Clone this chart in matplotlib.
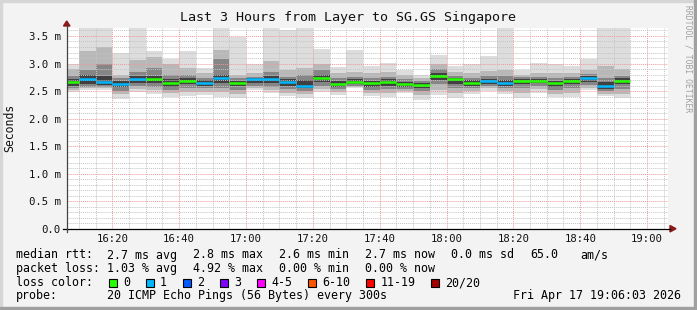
"""SmokePing style latency graph: Layer -> SG.GS Singapore, last 3 hours."""
import matplotlib
matplotlib.use("Agg")
import matplotlib.pyplot as plt
from matplotlib.lines import Line2D
from matplotlib.patches import Polygon, Rectangle
from matplotlib.ticker import FuncFormatter, MultipleLocator
import numpy as np

W, H = 697, 310
MONO = "DejaVu Sans Mono"

# 5 minute steps, first one starts at 16:05 (minutes since midnight)
first_step = 16 * 60 + 5
step = 5

# rtt in ms, read per 5-minute column (sorted ping bands)
rtt_max = [3.00, 3.70, 3.70, 3.20, 3.70, 3.23, 3.09, 3.23, 2.91, 3.70, 3.49, 3.00,
           3.70, 3.61, 3.70, 3.26, 2.94, 3.24, 2.96, 3.01, 2.89, 2.80, 3.15, 2.95,
           3.00, 3.14, 3.70, 2.88, 3.01, 3.00, 2.95, 3.08, 3.70, 3.70]
rtt_high = [2.90, 3.22, 3.30, 2.80, 3.06, 3.12, 3.00, 2.91, 2.82, 3.25, 2.79, 2.82,
            3.05, 2.88, 2.91, 3.00, 2.82, 2.85, 2.82, 2.84, 2.80, 2.74, 3.00, 2.84,
            2.82, 2.86, 2.88, 2.80, 2.82, 2.82, 2.82, 2.88, 2.95, 2.90]
rtt_upper = [2.78, 2.88, 3.00, 2.74, 2.85, 2.91, 2.80, 2.80, 2.74, 3.09, 2.73, 2.76,
             2.85, 2.76, 2.80, 2.88, 2.74, 2.76, 2.74, 2.76, 2.72, 2.69, 2.90, 2.78,
             2.74, 2.77, 2.77, 2.75, 2.76, 2.74, 2.76, 2.81, 2.74, 2.78]
rtt_core_hi = [2.71, 2.79, 2.78, 2.69, 2.77, 2.78, 2.72, 2.74, 2.70, 2.80, 2.69, 2.73,
               2.77, 2.71, 2.70, 2.79, 2.68, 2.71, 2.69, 2.71, 2.67, 2.65, 2.83, 2.74,
               2.70, 2.72, 2.70, 2.72, 2.72, 2.69, 2.72, 2.77, 2.66, 2.73]
rtt_median = [2.66, 2.71, 2.67, 2.63, 2.71, 2.71, 2.65, 2.68, 2.65, 2.73, 2.65, 2.71,
              2.71, 2.66, 2.60, 2.73, 2.62, 2.67, 2.64, 2.66, 2.62, 2.61, 2.78, 2.71,
              2.65, 2.68, 2.65, 2.68, 2.68, 2.64, 2.68, 2.73, 2.59, 2.68]
rtt_core_lo = [2.60, 2.63, 2.61, 2.57, 2.65, 2.64, 2.58, 2.62, 2.60, 2.65, 2.59, 2.65,
               2.64, 2.60, 2.55, 2.66, 2.57, 2.63, 2.57, 2.60, 2.58, 2.56, 2.70, 2.63,
               2.60, 2.63, 2.60, 2.62, 2.64, 2.58, 2.62, 2.67, 2.54, 2.62]
rtt_lower = [2.56, 2.58, 2.58, 2.50, 2.60, 2.57, 2.52, 2.55, 2.55, 2.56, 2.52, 2.60,
             2.57, 2.53, 2.50, 2.60, 2.53, 2.60, 2.52, 2.53, 2.54, 2.50, 2.62, 2.55,
             2.55, 2.59, 2.55, 2.55, 2.59, 2.51, 2.55, 2.61, 2.50, 2.54]
rtt_low = [2.52, 2.55, 2.55, 2.44, 2.54, 2.52, 2.46, 2.48, 2.49, 2.48, 2.45, 2.55,
           2.51, 2.47, 2.44, 2.54, 2.48, 2.58, 2.46, 2.46, 2.50, 2.42, 2.52, 2.46,
           2.50, 2.55, 2.50, 2.46, 2.53, 2.45, 2.47, 2.56, 2.45, 2.45]
rtt_min = [2.48, 2.51, 2.52, 2.35, 2.49, 2.45, 2.39, 2.41, 2.43, 2.40, 2.37, 2.51,
           2.46, 2.41, 2.37, 2.49, 2.43, 2.55, 2.41, 2.39, 2.46, 2.34, 2.43, 2.37,
           2.45, 2.50, 2.44, 2.37, 2.47, 2.39, 2.40, 2.52, 2.41, 2.37]
# lost pings out of 20 per column
lost = [0, 1, 1, 1, 1, 0, 0, 0, 1, 1, 0, 1, 1, 1, 1, 0, 0, 0, 0, 0, 0, 0, 0, 0,
        0, 1, 1, 0, 0, 0, 0, 1, 1, 0]

loss_labels = ["0", "1", "2", "3", "4-5", "6-10", "11-19", "20/20"]
loss_colors = ["#26ff00", "#00b8ff", "#0059ff", "#7e00ff", "#ff00ff", "#ff5500",
               "#ff0000", "#a10000"]

legend_rows = [
    ["median rtt:", "2.7 ms avg", "2.8 ms max", "2.6 ms min", "2.7 ms now", "0.0 ms sd"],
    ["packet loss:", "1.03 % avg", "4.92 % max", "0.00 % min", "0.00 % now"],
]
probe_text = "20 ICMP Echo Pings (56 Bytes) every 300s"
stamp = "Fri Apr 17 19:06:03 2026"
title = "Last 3 Hours from Layer to SG.GS Singapore"


def fx(x):
    return x / W


def fy(y):
    return 1 - y / H


fig = plt.figure(figsize=(W / 100, H / 100), dpi=100, facecolor="#f3f3f3")
ax = fig.add_axes([fx(66.7), fy(228.7), (668.3 - 66.7) / W, (228.7 - 28) / H])
ax.set_facecolor("white")

starts = first_step + step * np.arange(len(rtt_median))
bands = [
    (rtt_min, rtt_max, "#dddddd"),
    (rtt_low, rtt_high, "#b8b8b8"),
    (rtt_lower, rtt_upper, "#868686"),
    (rtt_core_lo, rtt_core_hi, "#404040"),
]
for lo, hi, col in bands:
    lo = np.array(lo)
    hi = np.array(hi)
    ax.bar(starts, hi - lo, bottom=lo, width=step, align="edge", color=col,
           linewidth=0, zorder=1)

med_colors = [loss_colors[n] for n in lost]
ax.hlines(rtt_median, starts, starts + step, colors=med_colors, linewidth=1.8, zorder=3)

ax.set_xlim(966.36, 1146.36)
ax.set_ylim(0, 3.645)

ax.xaxis.set_major_locator(MultipleLocator(20))
ax.xaxis.set_minor_locator(MultipleLocator(5))
ax.yaxis.set_major_locator(MultipleLocator(0.5))
ax.yaxis.set_minor_locator(MultipleLocator(0.1))
ax.xaxis.set_major_formatter(FuncFormatter(lambda m, p: f"{int(m // 60):02d}:{int(round(m % 60)):02d}"))
ax.yaxis.set_major_formatter(FuncFormatter(lambda v, p: "0.0" if abs(v) < 1e-9 else f"{v:.1f} m"))

ax.set_axisbelow(False)
ax.grid(which="minor", color="#c4c4c4", linestyle=(0, (1, 1)), linewidth=0.7, zorder=2)
ax.grid(which="major", color="#ee9999", linestyle=(0, (1, 1)), linewidth=0.7, zorder=2)
ax.tick_params(which="both", length=0)
ax.tick_params(axis="x", pad=3.5, labelsize=7.7, labelcolor="#111111")
ax.tick_params(axis="y", pad=4.5, labelsize=7.7, labelcolor="#111111")
for lab in ax.get_xticklabels() + ax.get_yticklabels():
    lab.set_family(MONO)
for s in ax.spines.values():
    s.set_visible(False)

# axis lines with arrows, like rrdtool
fig.add_artist(Line2D([fx(62.7), fx(670)], [fy(228.7), fy(228.7)], color="black", lw=0.9))
fig.add_artist(Line2D([fx(66.7), fx(66.7)], [fy(231.5), fy(26)], color="#444444", lw=0.9))
fig.add_artist(Polygon([[fx(670), fy(225.5)], [fx(670), fy(232)], [fx(676), fy(228.7)]],
                       closed=True, color="#8b1a1a", transform=fig.transFigure))
fig.add_artist(Polygon([[fx(63.5), fy(26)], [fx(70), fy(26)], [fx(66.7), fy(21)]],
                       closed=True, color="#8b1a1a", transform=fig.transFigure))

fig.text(fx(348), fy(18), title, family=MONO, fontsize=9.6, ha="center", va="center",
         color="#111111")
fig.text(fx(10), fy(128), "Seconds", family=MONO, fontsize=8.3, rotation=90,
         ha="center", va="center", color="#111111")
fig.text(fx(688), fy(5), "RRDTOOL / TOBI OETIKER", family=MONO, fontsize=5.8,
         rotation=270, ha="center", va="top", color="#a0a0a0")

# legend block
row_y = [255, 268.5, 282.5, 296]
for r, row in enumerate(legend_rows):
    fig.text(fx(16), fy(row_y[r]), row[0], family=MONO, fontsize=8.4, va="center")
    for i, part in enumerate(row[1:]):
        fig.text(fx(107 + 86 * i), fy(row_y[r]), part, family=MONO, fontsize=8.4, va="center")
fig.text(fx(530), fy(row_y[0]), "65.0", family=MONO, fontsize=8.4, va="center")
fig.text(fx(580), fy(row_y[0]), "am/s", family=MONO, fontsize=8.4, va="center")

fig.text(fx(16), fy(row_y[2]), "loss color:", family=MONO, fontsize=8.4, va="center")
x = 108.5
for lab, col in zip(loss_labels, loss_colors):
    fig.add_artist(Rectangle((fx(x), fy(row_y[2] + 4.5)), 8.5 / W, 8.5 / H,
                             facecolor=col, edgecolor="black", lw=0.8,
                             transform=fig.transFigure))
    fig.text(fx(x + 14.5), fy(row_y[2]), lab, family=MONO, fontsize=8.4, va="center")
    x = x + 14.5 + 7.02 * len(lab) + 15.5

fig.text(fx(16), fy(row_y[3]), "probe:", family=MONO, fontsize=8.4, va="center")
fig.text(fx(107), fy(row_y[3]), probe_text, family=MONO, fontsize=8.4, va="center")
fig.text(fx(681), fy(row_y[3]), stamp, family=MONO, fontsize=8.4, va="center", ha="right")

# 3d-ish outer frame
fig.add_artist(Rectangle((0, 0), 1, 2 / H, color="#d6d6d6", transform=fig.transFigure))
fig.add_artist(Rectangle((0, 1 - 2 / H), 1, 2 / H, color="#d6d6d6", transform=fig.transFigure))
fig.add_artist(Rectangle((0, 0), 2 / W, 1, color="#d6d6d6", transform=fig.transFigure))
fig.add_artist(Rectangle((1 - 3 / W, 0), 3 / W, 1, color="#a0a0a0", transform=fig.transFigure))
fig.add_artist(Rectangle((0, 0), 1, 3 / H, color="#a0a0a0", transform=fig.transFigure))

fig.savefig("out.png", dpi=100, facecolor=fig.get_facecolor())
